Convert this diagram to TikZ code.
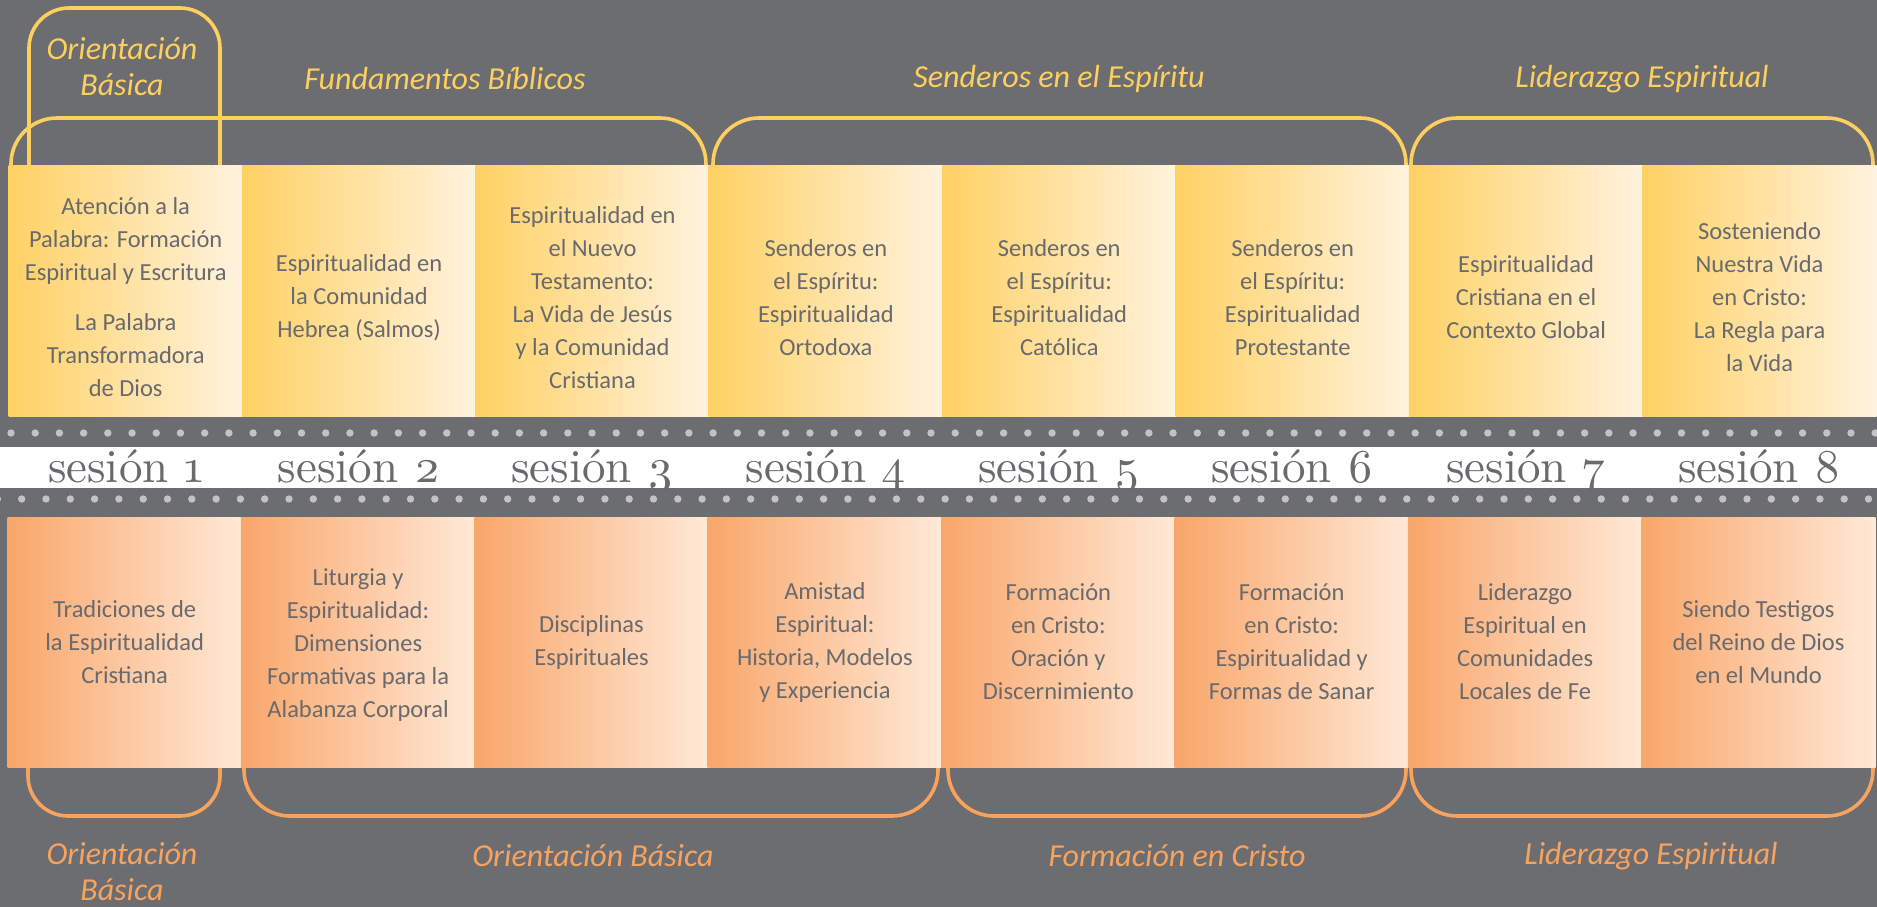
\documentclass[tikz,border=0pt]{standalone}
\usepackage{fontspec}
\newfontfamily\boxfont{Carlito}
\newfontfamily\sesfont{lmroman10-regular.otf}[Numbers=OldStyle]
\definecolor{bg}{HTML}{6C6D71}
\definecolor{yl}{HTML}{FDCF5E}
\definecolor{org}{HTML}{F7A35E}
\definecolor{ylA}{HTML}{FFD164}
\definecolor{ylB}{HTML}{FFF3DF}
\definecolor{orA}{HTML}{F9A66A}
\definecolor{orB}{HTML}{FFE9D7}
\definecolor{txt}{HTML}{696A6E}
\definecolor{dot}{HTML}{C3C3C5}
\tikzset{
  boxbase/.style={minimum width=234.4pt, inner sep=0pt, draw=none},
  topbox/.style={boxbase, minimum height=251pt, left color=ylA, right color=ylB},
  botbox/.style={boxbase, minimum height=250pt, left color=orA, right color=orB},
  boxtext/.style={inner sep=0pt, text=txt, align=center,
    font=\boxfont\fontsize{24.5}{33}\selectfont},
  toptitle/.style={text=yl, align=center, font=\boxfont\itshape\fontsize{32}{36}\selectfont},
  bottitle/.style={text=org, align=center, font=\boxfont\itshape\fontsize{32}{36}\selectfont},
  ylbracket/.style={draw=yl, line width=3.6pt, rounded corners=46pt},
  orbracket/.style={draw=org, line width=3.6pt, rounded corners=46pt},
  seslabel/.style={text=txt, font=\sesfont\fontsize{47}{47}\selectfont, inner sep=0pt},
}
\begin{document}
\begin{tikzpicture}[x=1pt,y=-1pt]
\useasboundingbox (0,0) rectangle (1877,907);
\fill[bg] (0,0) rectangle (1877,907);
% white band
\fill[white] (0,447) rectangle (1877,488);
% dots
\foreach \i in {0,...,77} {\fill[dot] ({11+24.21*\i},433) circle (3.7);}
\foreach \i in {-1,...,77} {\fill[dot] ({21.7+24.3*\i},499) circle (3.7);}
% top brackets
\draw[ylbracket, rounded corners=40pt] (29,175) -- (29,8) -- (220,8) -- (220,175);
\draw[ylbracket] (11,175) -- (11,118) -- (706,118) -- (706,175);
\draw[ylbracket] (713,175) -- (713,118) -- (1406,118) -- (1406,175);
\draw[ylbracket] (1411,175) -- (1411,118) -- (1873,118) -- (1873,175);
% bottom brackets
\draw[orbracket, rounded corners=40pt] (28,760) -- (28,816) -- (220,816) -- (220,760);
\draw[orbracket] (244,760) -- (244,816) -- (938,816) -- (938,760);
\draw[orbracket] (948,760) -- (948,816) -- (1406,816) -- (1406,760);
\draw[orbracket] (1411,760) -- (1411,816) -- (1873,816) -- (1873,760);
% titles top
\node[toptitle] (tt1) at (122,67) {Orientación\\Básica};
\node[toptitle] (tt2) at (445,79) {Fundamentos Bíblicos};
\node[toptitle] (tt3) at (1059,79) {Senderos en el Espíritu};
\node[toptitle] (tt4) at (1642,79) {Liderazgo Espiritual};
% titles bottom
\node[bottitle] (bt1) at (122,872) {Orientación\\Básica};
\node[bottitle] (bt2) at (593,856) {Orientación Básica};
\node[bottitle] (bt3) at (1177,856) {Formación en Cristo};
\node[bottitle] (bt4) at (1651,856) {Liderazgo Espiritual};
% boxes
\foreach \i in {1,...,8} {
  \node[topbox] (t\i) at ({9+233.4*(\i-0.5)},290.5) {};
  \node[botbox] (b\i) at ({8+233.4*(\i-0.5)},642) {};
}
\node[boxtext] (tx1) at ([yshift=-7pt]t1.center) {Atención a la\\Palabra: Formación\\Espiritual y Escritura\\[17pt]La Palabra\\Transformadora\\de Dios};
\node[boxtext] (tx2) at ([yshift=-7pt]t2.center) {Espiritualidad en\\la Comunidad\\Hebrea (Salmos)};
\node[boxtext] (tx3) at ([yshift=-7pt]t3.center) {Espiritualidad en\\el Nuevo\\Testamento:\\La Vida de Jesús\\y la Comunidad\\Cristiana};
\node[boxtext] (tx4) at ([yshift=-7pt]t4.center) {Senderos en\\el Espíritu:\\Espiritualidad\\Ortodoxa};
\node[boxtext] (tx5) at ([yshift=-7pt]t5.center) {Senderos en\\el Espíritu:\\Espiritualidad\\Católica};
\node[boxtext] (tx6) at ([yshift=-7pt]t6.center) {Senderos en\\el Espíritu:\\Espiritualidad\\Protestante};
\node[boxtext] (tx7) at ([yshift=-7pt]t7.center) {Espiritualidad\\Cristiana en el\\Contexto Global};
\node[boxtext] (tx8) at ([yshift=-7pt]t8.center) {Sosteniendo\\Nuestra Vida\\en Cristo:\\La Regla para\\la Vida};
% bottom boxes text
\node[boxtext] (bx1) at (b1.center) {Tradiciones de\\la Espiritualidad\\Cristiana};
\node[boxtext] (bx2) at ([yshift=-3pt]b2.center) {Liturgia y\\Espiritualidad:\\Dimensiones\\Formativas para la\\Alabanza Corporal};
\node[boxtext] (bx3) at (b3.center) {Disciplinas\\Espirituales};
\node[boxtext] (bx4) at (b4.center) {Amistad\\Espiritual:\\Historia, Modelos\\y Experiencia};
\node[boxtext] (bx5) at (b5.center) {Formación\\en Cristo:\\Oración y\\Discernimiento};
\node[boxtext] (bx6) at (b6.center) {Formación\\en Cristo:\\Espiritualidad y\\Formas de Sanar};
\node[boxtext] (bx7) at (b7.center) {Liderazgo\\Espiritual en\\Comunidades\\Locales de Fe};
\node[boxtext] (bx8) at (b8.center) {Siendo Testigos\\del Reino de Dios\\en el Mundo};
% session labels
\foreach \i in {1,...,8} {
  \node[seslabel, anchor=base] (s\i) at ({9+233.4*(\i-0.5)},482) {sesión \i};
}
\end{tikzpicture}
\end{document}
